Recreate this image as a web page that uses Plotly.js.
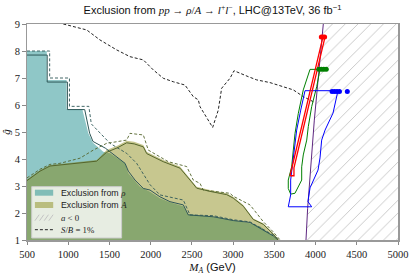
<!DOCTYPE html>
<html><head><meta charset="utf-8">
<script src="https://cdn.plot.ly/plotly-3.0.1.min.js"></script>
<style>html,body{margin:0;padding:0;background:#fff}#plot{width:415px;height:277px}</style>
</head><body><div id="plot"></div>
<script>
// ---- data ----
const rhoX = [500,740,740,980,980,1170,1244,1300,1425,1507,1689,1729,1871,1992,2113,2234,2396,2456,2760,3002,3205,3330,3487,3545];
const rhoY = [8.0,8.0,6.93,6.93,5.85,5.85,4.95,4.6,4.27,4.21,3.84,3.47,2.97,2.79,2.55,2.40,2.25,1.95,1.86,1.72,1.62,1.5,1.12,1.0];
const aX = [500,658,779,981,1183,1345,1425,1466,1600,1709,1800,1911,1952,2153,2356,2497,2558,2720,2922,3002,3124,3245,3366,3487,3560];
const aY = [3.25,3.59,3.78,3.84,3.90,3.96,4.2,4.33,4.5,4.68,4.64,4.52,4.27,3.96,3.72,3.22,2.97,2.85,2.73,2.60,2.30,1.80,1.62,1.25,1.0];
const rhoObsX = [500,745,745,990,990,1200,1260,1300,1451,1689,1729,1810,1911,1992,2113,2234,2396,2456,2760,3002,3205,3487,3545];
const rhoObsY = [7.85,7.85,6.85,6.85,5.83,5.83,4.95,4.65,4.40,3.84,3.55,3.22,2.91,2.85,2.6,2.42,2.30,1.93,1.86,1.72,1.65,1.15,1.0];
const rhoExpX = [500,775,775,1015,1015,1250,1280,1507,1709,1830,1992,2113,2396,2477,2760,3002,3205,3487,3560];
const rhoExpY = [8.0,8.0,7.0,7.0,5.95,5.95,5.3,4.58,4.21,3.84,3.05,2.67,2.48,1.93,1.9,1.75,1.67,1.18,1.0];
const aObsX = [500,658,779,981,1183,1345,1466,1600,1709,1800,1911,1952,2153,2356,2497,2558,2720,2922,3002,3124,3245,3366,3487,3545];
const aObsY = [3.2,3.55,3.74,3.8,3.86,3.92,4.25,4.42,4.6,4.56,4.45,4.2,3.9,3.66,3.15,2.92,2.80,2.68,2.55,2.25,1.76,1.58,1.22,1.0];
const aExpX = [500,658,779,900,1143,1304,1466,1709,1749,1911,1971,2153,2214,2437,2517,2598,2638,2962,3002,3205,3366,3487,3570];
const aExpY = [3.3,3.62,3.8,3.84,4.03,4.33,4.58,4.70,4.95,4.89,4.33,4.03,3.90,3.72,3.22,3.10,2.85,2.73,2.62,2.30,1.68,1.3,1.0];
const sbX = [940,1224,1385,1588,1749,1911,2032,2153,2275,2416,2517,2578,2598,2752,2820,2861,2962,3011,3184,3286,3447,3609,3730,3852,3993];
const sbY = [9.0,8.78,8.41,8.04,7.79,7.67,7.30,6.99,6.86,6.74,6.31,6.19,5.94,5.17,5.81,6.62,6.99,7.27,7.05,6.93,6.83,6.68,6.56,6.31,6.09];
const aNegX = [4094,3985,3904,3884];
const aNegY = [9,5.44,2.17,1.0];
const hatchX = [4094,3985,3904,3884,5000,5000];
const hatchY = [9,5.44,2.17,1.0,1.0,9];
const redX = [3690,4090,4115,3738,3738,3690];
const redY = [3.38,8.52,8.52,3.67,3.38,3.38];
const redDotX = [4070,4090,4110];
const redDotY = [8.52,8.52,8.52];
const greenX = [3933,4054,4014,3953,3912,3893,3851,3832,3832,3771,3750,3698,3669,3669,3710,3730,3751,3791,3851,3933];
const greenY = [7.32,7.32,6.68,5.94,5.20,4.70,4.15,3.71,3.22,2.85,2.73,2.70,2.91,3.22,3.71,4.33,4.95,5.69,6.56,7.32];
const greenDotX = [4040,4070,4100,4130];
const greenDotY = [7.32,7.32,7.32,7.32];
const blueX = [3872,4272,4212,4115,4074,4054,4030,3933,3908,3953,3669,3698,3698,3730,3771,3820,3851,3872];
const blueY = [6.53,6.53,5.70,5.07,4.70,4.04,3.59,2.93,2.42,2.23,2.23,2.67,3.22,4.09,5.07,5.81,6.31,6.53];
const blueDotX = [4200,4230,4260,4290,4385];
const blueDotY = [6.5,6.5,6.5,6.5,6.5];
const xTicks = [500,1000,1500,2000,2500,3000,3500,4000,4500,5000];
const yTicks = [1,2,3,4,5,6,7,8,9];
const SERIF = '<span style="font-family:Liberation Serif">';
const legendLabels = ['Exclusion from ' + SERIF + '<i>ρ</i></span>',
  'Exclusion from ' + SERIF + '<i>A</i></span>',
  SERIF + '<i>a</i> &lt; 0</span>',
  SERIF + '<i>S</i>/<i>B</i> = 1%</span>'];

const TEAL = 'rgba(0,128,128,0.44)';
const OLIVE = 'rgba(128,128,0,0.44)';
const RHOLINE = '#2f5858';
const ALINE = '#55652c';

const traces = [
  {x: hatchX, y: hatchY, mode:'lines', fill:'toself', line:{width:0}, fillcolor:'rgba(0,0,0,0)',
   fillpattern:{shape:'/', fgcolor:'#c4c4c4', bgcolor:'rgba(255,255,255,0)', size:9, solidity:0.1}},
  {x: rhoX, y: rhoY, mode:'lines', fill:'tozeroy', fillcolor:TEAL, line:{width:0}},
  {x: aX, y: aY, mode:'lines', fill:'tozeroy', fillcolor:OLIVE, line:{width:0}},
  {x: rhoObsX, y: rhoObsY, mode:'lines', line:{color:RHOLINE, width:1}},
  {x: rhoExpX, y: rhoExpY, mode:'lines', line:{color:RHOLINE, width:0.9, dash:'3px,2px'}},
  {x: aObsX, y: aObsY, mode:'lines', line:{color:ALINE, width:1}},
  {x: aExpX, y: aExpY, mode:'lines', line:{color:ALINE, width:0.9, dash:'3px,2px'}},
  {x: sbX, y: sbY, mode:'lines', line:{color:'#222', width:1, dash:'3px,2px'}},
  {x: aNegX, y: aNegY, mode:'lines', line:{color:'#5e2780', width:1}},
  {x: greenX, y: greenY, mode:'lines', line:{color:'#008000', width:1}},
  {x: blueX, y: blueY, mode:'lines', line:{color:'#0000ff', width:1}},
  {x: redX, y: redY, mode:'lines', line:{color:'#ff0000', width:1.3}},
  {x: redDotX, y: redDotY, mode:'markers', marker:{color:'#ff0000', size:5}},
  {x: greenDotX, y: greenDotY, mode:'markers', marker:{color:'#008000', size:5}},
  {x: blueDotX, y: blueDotY, mode:'markers', marker:{color:'#0000ff', size:5}}
].map(t => Object.assign({showlegend:false, hoverinfo:'skip'}, t));

// custom legend (paper coords)
const L = {x0:0.0127, x1:0.255, y0:0.0093, y1:0.247, sx0:0.0213, sx1:0.0706, tx:0.0863};
const rows = [0.219, 0.162, 0.1032, 0.0477];
const hh = 0.0139;
const shapes = [
  {type:'rect', xref:'paper', yref:'paper', x0:L.x0, x1:L.x1, y0:L.y0, y1:L.y1,
   fillcolor:'rgba(255,255,255,0.8)', line:{color:'#cccccc', width:1}, layer:'above'},
  {type:'rect', xref:'paper', yref:'paper', x0:L.sx0, x1:L.sx1, y0:rows[0]-hh, y1:rows[0]+hh,
   fillcolor:TEAL, line:{width:0}, layer:'above'},
  {type:'rect', xref:'paper', yref:'paper', x0:L.sx0, x1:L.sx1, y0:rows[1]-hh, y1:rows[1]+hh,
   fillcolor:OLIVE, line:{width:0}, layer:'above'},
  {type:'line', xref:'paper', yref:'paper', x0:L.sx0, x1:L.sx1, y0:rows[3], y1:rows[3],
   line:{color:'#222', width:1, dash:'3px,2px'}, layer:'above'}
];
for (let k=0;k<4;k++){
  const xs = L.sx0 + k*0.0125;
  shapes.push({type:'line', xref:'paper', yref:'paper', x0:xs, x1:xs+0.0115, y0:rows[2]-hh, y1:rows[2]+hh,
    line:{color:'#c4c4c4', width:1}, layer:'above'});
}
const annotations = legendLabels.map((t,i)=>({xref:'paper', yref:'paper', x:L.tx, y:rows[i], xanchor:'left', yanchor:'middle',
  text:t, showarrow:false, font:{family:'Liberation Sans', size:8.8, color:'#222'}}));

const layout = {
  width:415, height:277,
  margin:{l:27, r:17, t:24, b:37},
  paper_bgcolor:'#fff', plot_bgcolor:'#fff',
  showlegend:false,
  title:{text:'Exclusion from ' + SERIF + '<i>pp</i> → <i>ρ</i>/<i>A</i> → <i>l</i><sup>+</sup><i>l</i><sup>−</sup></span>, LHC@13TeV, 36 fb<sup>−1</sup>',
    font:{family:'Liberation Sans', size:11, color:'#111'}, x:0.5, xref:'paper', xanchor:'center', y:0.962, yref:'container', yanchor:'middle'},
  xaxis:{range:[500,5000], tickvals:xTicks, ticktext:xTicks.map(String), ticks:'outside', ticklen:3.5, tickcolor:'#888',
    showgrid:false, zeroline:false, showline:true, linecolor:'#999', linewidth:1.5, mirror:true,
    tickfont:{family:'Liberation Serif', size:10.5, color:'#222'},
    title:{text:SERIF + '<i>M</i><sub><i>A</i></sub></span> (GeV)', font:{family:'Liberation Sans', size:11, color:'#111'}, standoff:4}},
  yaxis:{range:[1,9], tickvals:yTicks, ticktext:yTicks.map(String), ticks:'outside', ticklen:3.5, tickcolor:'#888',
    showgrid:false, zeroline:false, showline:true, linecolor:'#999', linewidth:1.5, mirror:true,
    tickfont:{family:'Liberation Serif', size:10.5, color:'#222'},
    title:{text:'<i>ĝ</i>', font:{family:'Liberation Serif', size:11, color:'#111'}, standoff:2}},
  shapes:shapes, annotations:annotations
};
Plotly.newPlot('plot', traces, layout, {staticPlot:true, displayModeBar:false});
</script></body></html>
